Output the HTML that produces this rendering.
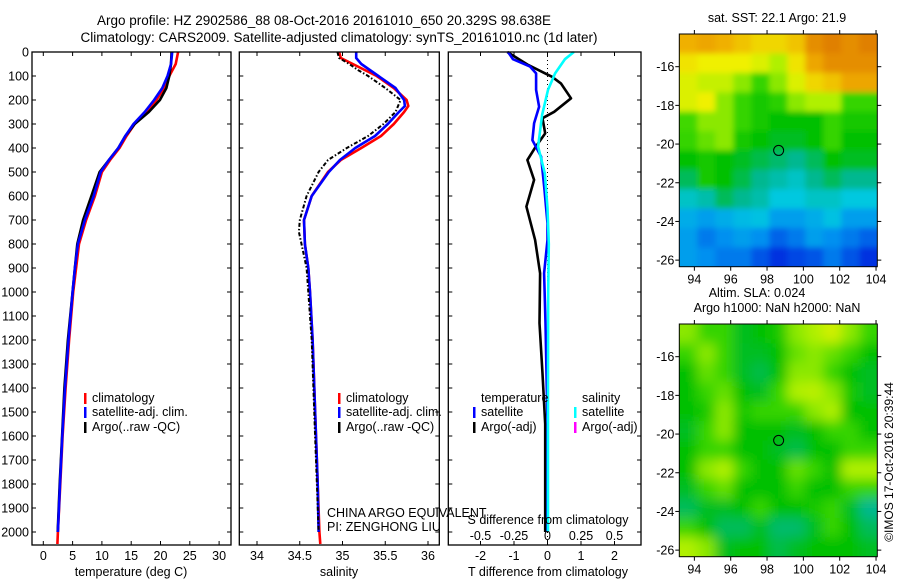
<!DOCTYPE html>
<html><head><meta charset="utf-8">
<style>
html,body{margin:0;padding:0;background:#fff;}
svg{display:block;font-family:"Liberation Sans",Arial,sans-serif;}
text{fill:#000;}
</style></head>
<body>
<svg id="fig" width="900" height="580" viewBox="0 0 900 580" xmlns="http://www.w3.org/2000/svg">
<defs>
<filter id="blurS" x="-10%" y="-10%" width="120%" height="120%"><feGaussianBlur stdDeviation="3"/></filter>
<filter id="blurL" x="-10%" y="-10%" width="120%" height="120%"><feGaussianBlur stdDeviation="6"/></filter>
<clipPath id="clipm1"><rect x="679.3" y="34" width="198" height="232.7"/></clipPath>
<clipPath id="clipm2"><rect x="679.3" y="324" width="198" height="232.7"/></clipPath>
</defs>
<rect width="900" height="580" fill="#fff"/>
<text x="324" y="25" font-size="13.5" text-anchor="middle">Argo profile: HZ 2902586_88 08-Oct-2016 20161010_650 20.329S 98.638E</text>
<text x="339" y="42" font-size="13.5" text-anchor="middle">Climatology: CARS2009. Satellite-adjusted climatology: synTS_20161010.nc (1d later)</text>
<g id="g1"></g>
<g id="g2"></g>
<g id="g3"></g>
<g id="m1"></g>
<g id="m2"></g>
<text transform="translate(893,462) rotate(-90)" font-size="12" text-anchor="middle">©IMOS 17-Oct-2016 20:39:44</text>
</svg>
<script>
// ---------- data ----------
const depthTicks = [0,100,200,300,400,500,600,700,800,900,1000,1100,1200,1300,1400,1500,1600,1700,1800,1900,2000];
const tempTicks = [0,5,10,15,20,25,30];
const salTicks = ["34","34.5","35","35.5","36"];
const tdiffTicks = [-2,-1,0,1,2];
const sdiffTicks = ["-0.5","-0.25","0","0.25","0.5"];

const tClimDepth = [0,50,100,150,200,250,300,350,400,450,500,600,700,800,900,1000,1200,1400,1600,1800,2000,2050];
const tClim      = [23.0,22.6,21.5,20.6,19.3,17.6,15.6,14.2,13.0,11.4,10.0,8.8,7.3,6.1,5.6,5.1,4.4,3.8,3.3,2.9,2.5,2.4];
const tSat       = [22.0,21.8,21.2,20.3,18.9,17.3,15.4,14.0,12.8,11.2,9.8,8.6,7.1,5.9,5.4,5.0,4.3,3.7,3.25,2.85,2.5];
const tArgoDepth = [0,50,100,150,200,250,300,350,400,450,500,600,700,800,900,1000,1200,1400,1600,1800,2000];
const tArgo      = [21.9,21.8,21.5,21.0,19.9,18.0,15.6,14.0,12.8,11.2,9.6,8.2,6.8,5.8,5.4,5.0,4.2,3.6,3.2,2.8,2.45];

const sClimDepth = [0,25,50,100,150,200,225,250,300,350,400,450,500,600,700,800,900,1000,1200,1400,1600,1800,2000,2050];
const sClim      = [34.96,34.98,35.12,35.4,35.6,35.75,35.77,35.72,35.6,35.45,35.22,34.98,34.83,34.64,34.55,34.56,34.6,34.62,34.65,34.67,34.69,34.71,34.73,34.74];
const sSat       = [35.16,35.16,35.22,35.42,35.62,35.72,35.73,35.66,35.53,35.38,35.15,34.97,34.84,34.64,34.55,34.56,34.6,34.62,34.65,34.67,34.69,34.71,34.72];
const sArgoDepth = [0,25,50,75,100,150,200,250,300,350,400,450,500,600,700,750,800,900,1000,1200,1400,1600,1800,2000];
const sArgo      = [34.94,34.96,35.08,35.18,35.3,35.5,35.68,35.62,35.48,35.3,35.05,34.83,34.72,34.58,34.5,34.49,34.52,34.58,34.6,34.64,34.66,34.68,34.7,34.72];

const dTDepth  = [0,30,61,89,158,228,297,367,436,575,714,783,922,1130,1340,1550,1800,2000];
const dTSat    = [-1.18,-1.03,-0.52,-0.34,-0.34,-0.25,-0.4,-0.45,-0.19,-0.09,0.0,0.0,-0.1,-0.06,-0.03,0.0,0.0,0.0];
const dTArgoDepth = [0,52,89,103,131,193,249,276,339,394,450,533,644,714,783,922,1130,1340,1550,1800,2000];
const dTArgo   = [-1.2,-0.6,-0.07,0.13,0.4,0.7,0.2,-0.15,-0.07,-0.35,-0.6,-0.4,-0.63,-0.5,-0.37,-0.22,-0.24,-0.15,-0.07,-0.07,-0.07];
const dSDepth  = [0,30,89,158,262,394,505,650,800,1000,1400,2000];
const dSSat    = [0.197,0.13,0.057,0.004,-0.04,-0.07,-0.02,0.0,0.01,0.005,0.004,0.004];

const sstGrid = [
[0.78,0.8,0.78,0.75,0.72,0.72,0.75,0.85,0.88,0.85,0.88],
[0.7,0.68,0.68,0.68,0.66,0.62,0.7,0.8,0.85,0.85,0.85],
[0.66,0.64,0.64,0.6,0.55,0.6,0.66,0.72,0.75,0.8,0.8],
[0.66,0.68,0.6,0.55,0.52,0.54,0.6,0.62,0.62,0.55,0.55],
[0.56,0.6,0.6,0.55,0.52,0.5,0.5,0.5,0.55,0.52,0.52],
[0.55,0.58,0.6,0.52,0.5,0.48,0.48,0.5,0.55,0.5,0.5],
[0.5,0.52,0.5,0.48,0.46,0.44,0.42,0.45,0.5,0.48,0.48],
[0.45,0.52,0.5,0.46,0.42,0.4,0.38,0.42,0.45,0.42,0.42],
[0.38,0.4,0.45,0.42,0.4,0.36,0.36,0.38,0.38,0.36,0.36],
[0.32,0.3,0.32,0.34,0.35,0.3,0.3,0.32,0.35,0.3,0.3],
[0.3,0.25,0.28,0.3,0.28,0.22,0.25,0.3,0.28,0.25,0.22],
[0.3,0.28,0.25,0.25,0.2,0.15,0.18,0.2,0.25,0.2,0.15]];
const slaGrid = [
[0.6,0.55,0.55,0.48,0.5,0.52,0.6,0.62,0.65,0.6,0.55],
[0.55,0.6,0.55,0.48,0.48,0.5,0.58,0.6,0.58,0.55,0.5],
[0.5,0.58,0.55,0.48,0.46,0.5,0.6,0.6,0.55,0.5,0.48],
[0.5,0.55,0.58,0.5,0.48,0.55,0.62,0.63,0.6,0.52,0.48],
[0.5,0.52,0.6,0.52,0.55,0.55,0.55,0.6,0.62,0.5,0.5],
[0.48,0.55,0.6,0.5,0.5,0.5,0.48,0.5,0.55,0.55,0.5],
[0.5,0.55,0.55,0.5,0.5,0.48,0.46,0.5,0.5,0.55,0.55],
[0.5,0.6,0.62,0.55,0.5,0.5,0.58,0.55,0.5,0.62,0.62],
[0.48,0.55,0.58,0.5,0.5,0.5,0.55,0.5,0.5,0.55,0.55],
[0.45,0.48,0.48,0.5,0.55,0.5,0.5,0.52,0.55,0.48,0.42],
[0.55,0.5,0.45,0.45,0.48,0.44,0.44,0.48,0.55,0.5,0.45],
[0.62,0.6,0.48,0.5,0.5,0.46,0.48,0.5,0.5,0.5,0.48]];
const lonTicks = [94,96,98,100,102,104];
const latTicks = [-16,-18,-20,-22,-24,-26];
const argoLon = 98.638, argoLat = -20.329;

// ---------- helpers ----------
const NS = "http://www.w3.org/2000/svg";
function mk(parent, tag, attrs, txt){const e=document.createElementNS(NS,tag);for(const k in attrs)e.setAttribute(k,attrs[k]);if(txt!==undefined)e.textContent=txt;parent.appendChild(e);return e;}
const TOP=52, BOT=545;
const yD = d => TOP + d*0.24;
const xT = t => 43.3 + t*5.86;
const xS = s => 257 + (s-34)*85.5;
const xDT = t => 547.5 + t*33.5;
const xDS = s => 547.5 + s*134;

function frame(g,x0,x1,name){
  const r=mk(g,'rect',{x:x0,y:TOP,width:x1-x0,height:BOT-TOP,fill:'none',stroke:'#000','stroke-width':1.3});
  
  
}
function depthAxis(g,x0,x1,labels){
  depthTicks.forEach(d=>{
    const y=yD(d);
    mk(g,'line',{x1:x0,x2:x0+4,y1:y,y2:y,stroke:'#000'});
    mk(g,'line',{x1:x1,x2:x1-4,y1:y,y2:y,stroke:'#000'});
    if(labels){
      const t=mk(g,'text',{x:x0-3,y:y+4.5,'font-size':12.5,'text-anchor':'end'},String(d));
      
      
    }
  });
}
function xAxis(g,vals,fx,labelY,labels){
  vals.forEach((v,i)=>{
    const x=fx(+v);
    mk(g,'line',{x1:x,x2:x,y1:BOT,y2:BOT-4,stroke:'#000'});
    mk(g,'line',{x1:x,x2:x,y1:TOP,y2:TOP+4,stroke:'#000'});
    if(labels){
      const t=mk(g,'text',{x:x,y:labelY,'font-size':12.5,'text-anchor':'middle'},labels[i]);
      
      
    }
  });
}
function line(g,xs,ds,fx,color,name,dash,w){
  const pts=xs.map((v,i)=>fx(v).toFixed(1)+','+yD(ds[i]).toFixed(1)).join(' ');
  const p=mk(g,'polyline',{points:pts,fill:'none',stroke:color,'stroke-width':w||2.6,'stroke-linejoin':'round'});
  if(dash)p.setAttribute('stroke-dasharray',dash);
  
  
}
function legend(g,x,y,color,label){
  mk(g,'rect',{x:x,y:y-9,width:2.5,height:11,fill:color});
  const t=mk(g,'text',{x:x+8,y:y,'font-size':12.5},label);
  
  
}
function axTitle(g,x,y,s){
  const t=mk(g,'text',{x:x,y:y,'font-size':12.5,'text-anchor':'middle'},s);
  
  
}

// ---------- panel 1: temperature ----------
const g1=document.getElementById('g1');
line(g1,tClim,tClimDepth,xT,'#f00','temperature-climatology-line');
line(g1,tArgo,tArgoDepth,xT,'#000','temperature-argo-line');
line(g1,tSat,tClimDepth.slice(0,tSat.length),xT,'#00f','temperature-satellite-line');
frame(g1,32,231,'temperature-axes');
depthAxis(g1,32,231,true);
xAxis(g1,tempTicks,xT,560,tempTicks.map(String));
axTitle(g1,131,576,'temperature (deg C)');
legend(g1,84,402,'#f00','climatology');
legend(g1,84,416,'#00f','satellite-adj. clim.');
legend(g1,84,431,'#000','Argo(..raw -QC)');

// ---------- panel 2: salinity ----------
const g2=document.getElementById('g2');
line(g2,sClim,sClimDepth,xS,'#f00','salinity-climatology-line');
line(g2,sSat,sClimDepth.slice(0,sSat.length),xS,'#00f','salinity-satellite-line');
line(g2,sArgo,sArgoDepth,xS,'#000','salinity-argo-line','4,2,1.5,2',2);
frame(g2,239.3,439.3,'salinity-axes');
depthAxis(g2,239.3,439.3,false);
xAxis(g2,salTicks,xS,560,salTicks);
axTitle(g2,339,576,'salinity');
legend(g2,338,402,'#f00','climatology');
legend(g2,338,416,'#00f','satellite-adj. clim.');
legend(g2,338,431,'#000','Argo(..raw -QC)');
mk(g2,'text',{x:327,y:517,'font-size':12.5},'CHINA ARGO EQUIVALENT');
mk(g2,'text',{x:327,y:531,'font-size':12.5},'PI: ZENGHONG LIU');

// ---------- panel 3: differences ----------
const g3=document.getElementById('g3');
mk(g3,'line',{x1:xDT(0),x2:xDT(0),y1:TOP,y2:BOT,stroke:'#000','stroke-dasharray':'1,3'});
line(g3,dTArgo,dTArgoDepth,xDT,'#000','t-diff-argo-line');
line(g3,dTSat,dTDepth,xDT,'#00f','t-diff-satellite-line');
line(g3,dSSat,dSDepth,xDS,'#0ff','s-diff-satellite-line');
frame(g3,448.3,641,'difference-axes');
depthAxis(g3,448.3,641,false);
xAxis(g3,tdiffTicks,xDT,560,tdiffTicks.map(String));
sdiffTicks.forEach(s=>{
  const t=mk(g3,'text',{x:xDS(+s),y:540,'font-size':12.5,'text-anchor':'middle'},s);
  
  
});
axTitle(g3,548,524,'S difference from climatology');
axTitle(g3,548,576,'T difference from climatology');
mk(g3,'text',{x:481,y:402,'font-size':12.5},'temperature');
legend(g3,473,416,'#00f','satellite');
legend(g3,473,431,'#000','Argo(-adj)');
mk(g3,'text',{x:582,y:402,'font-size':12.5},'salinity');
legend(g3,574,416,'#0ff','satellite');
legend(g3,574,431,'#f0f','Argo(-adj)');

// ---------- maps ----------
const cStops=[[0,[0,0,140]],[0.15,[0,48,224]],[0.28,[0,144,240]],[0.36,[0,200,224]],[0.42,[0,184,144]],[0.5,[0,192,0]],[0.56,[64,216,0]],[0.62,[176,240,0]],[0.68,[240,240,0]],[0.78,[240,176,0]],[0.88,[224,128,0]],[1,[192,64,0]]];
function cmap(v){
  for(let i=1;i<cStops.length;i++){
    if(v<=cStops[i][0]){const a=cStops[i-1],b=cStops[i];const f=(v-a[0])/(b[0]-a[0]);
      return 'rgb('+a[1].map((c,k)=>Math.round(c+(b[1][k]-c)*f)).join(',')+')';}
  }
  return 'rgb(192,64,0)';
}
const MX0=679.3, MX1=877.3, LON0=93.17, LON1=104.07;
const xLon = l => MX0 + (l-LON0)*(MX1-MX0)/(LON1-LON0);
function drawMap(id,grid,y0,y1,titles,name,blur){
  const g=document.getElementById(id);
  const LAT0=-14.31, LAT1=-26.34;
  const yLat = l => y0 + (l-LAT0)*(y1-y0)/(LAT1-LAT0);
  const rows=grid.length, cols=grid[0].length;
  const cw=(MX1-MX0)/cols, ch=(y1-y0)/rows;
  const clip=mk(g,'g',{'clip-path':'url(#clip'+id+')'});
  const cells=mk(clip,'g',{filter:'url(#'+blur+')'});
  for(let r=-1;r<=rows;r++)for(let c=-1;c<=cols;c++){
    const v=grid[Math.min(rows-1,Math.max(0,r))][Math.min(cols-1,Math.max(0,c))];
    const e=mk(cells,'rect',{x:(MX0+c*cw).toFixed(2),y:(y0+r*ch).toFixed(2),width:(cw+0.6).toFixed(2),height:(ch+0.6).toFixed(2),fill:cmap(v)});
    
    
  }
  const fr=mk(g,'rect',{x:MX0,y:y0,width:MX1-MX0,height:y1-y0,fill:'none',stroke:'#000','stroke-width':1});
  
  
  lonTicks.forEach(l=>{
    const x=xLon(l);
    mk(g,'line',{x1:x,x2:x,y1:y0,y2:y0-4,stroke:'#000'});
    mk(g,'line',{x1:x,x2:x,y1:y1,y2:y1+4,stroke:'#000'});
    const t=mk(g,'text',{x:x,y:y1+17,'font-size':12.5,'text-anchor':'middle'},String(l));
    
    
  });
  latTicks.forEach(l=>{
    const y=yLat(l);
    mk(g,'line',{x1:MX0,x2:MX0-4,y1:y,y2:y,stroke:'#000'});
    mk(g,'line',{x1:MX1,x2:MX1+4,y1:y,y2:y,stroke:'#000'});
    const t=mk(g,'text',{x:MX0-5,y:y+4.5,'font-size':12.5,'text-anchor':'end'},String(l));
    
    
  });
  const c=mk(g,'circle',{cx:xLon(argoLon),cy:yLat(argoLat),r:5,fill:'none',stroke:'#000','stroke-width':1});
  
  
  titles.forEach((s,i)=>{
    const t=mk(g,'text',{x:titles.length>1&&i==0?757:777,y:y0-12-(titles.length-1-i)*15,'font-size':12.5,'text-anchor':'middle'},s);
    
    
  });
}
drawMap('m1',sstGrid,34,266.7,['sat. SST: 22.1 Argo: 21.9'],'sst-map','blurS');
drawMap('m2',slaGrid,324,556.7,['Altim. SLA: 0.024','Argo h1000: NaN h2000: NaN'],'sla-map','blurL');
</script>
</body></html>
